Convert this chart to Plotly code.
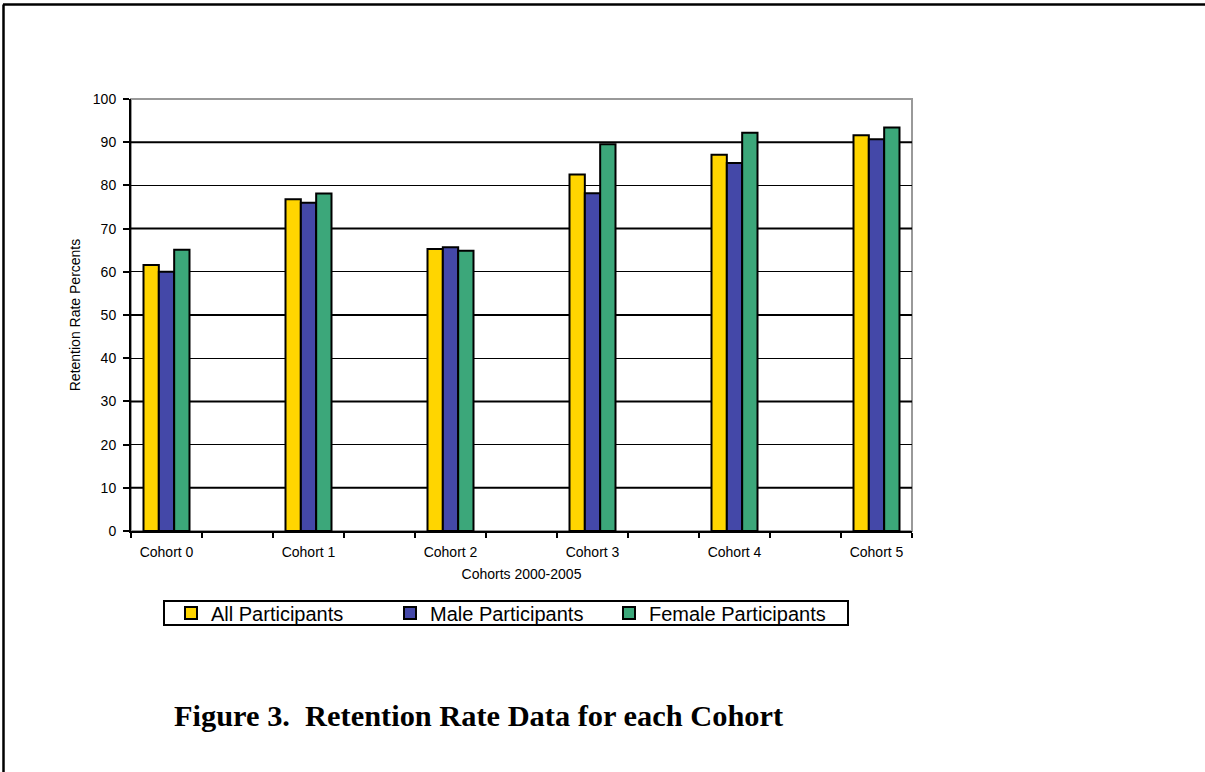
import plotly.graph_objects as go

# Retention rates (%) per cohort and participant group
cohorts = ["Cohort 0", "Cohort 1", "Cohort 2", "Cohort 3", "Cohort 4", "Cohort 5"]
all_participants = [61.6, 76.8, 65.3, 82.5, 87.1, 91.6]
male_participants = [60.0, 76.0, 65.7, 78.2, 85.2, 90.7]
female_participants = [65.1, 78.1, 64.9, 89.5, 92.2, 93.4]

series_names = ["All Participants", "Male Participants", "Female Participants"]
series_values = [all_participants, male_participants, female_participants]
series_colors = ["#FFD500", "#4448A8", "#3CA77A"]

y_ticks = [0, 10, 20, 30, 40, 50, 60, 70, 80, 90, 100]
heavy_grid = [10, 30, 50, 70, 90]

# cohorts sit on every other slot of the category axis
n_slots = len(cohorts) * 2 - 1
slots = [2 * i for i in range(len(cohorts))]
boundaries = [s - 0.5 for s in range(n_slots + 1)]

SANS = '"Liberation Sans", Arial, sans-serif'
SERIF = '"Liberation Serif", "Times New Roman", serif'

L, R, T, B = 131, 293, 99, 241
W, H = 1205, 772
pw, ph = W - L - R, H - T - B


def px_x(px):
    return (px - L) / pw


def px_y(py):
    return (H - B - py) / ph


fig = go.Figure()
for name, vals, col in zip(series_names, series_values, series_colors):
    fig.add_trace(go.Bar(
        x=slots, y=vals, name=name,
        marker=dict(color=col, line=dict(color="black", width=2)),
    ))

shapes = [
    # grey frame on top/right of the plot area
    dict(type="rect", xref="paper", yref="paper", x0=0, x1=1, y0=0, y1=1,
         line=dict(color="#999999", width=2), layer="below"),
    # legend frame
    dict(type="rect", xref="paper", yref="paper",
         x0=px_x(164), x1=px_x(848), y0=px_y(601), y1=px_y(625),
         line=dict(color="black", width=2)),
]
for g in heavy_grid:
    shapes.append(dict(type="line", xref="paper", yref="y", x0=0, x1=1, y0=g, y1=g,
                       line=dict(color="black", width=2), layer="below"))
# page border (top and left)
shapes.append(dict(type="line", xref="paper", yref="paper",
                   x0=px_x(3), x1=px_x(W), y0=px_y(4.5), y1=px_y(4.5),
                   line=dict(color="black", width=2.5)))
shapes.append(dict(type="line", xref="paper", yref="paper",
                   x0=px_x(3.5), x1=px_x(3.5), y0=px_y(4.5), y1=px_y(H),
                   line=dict(color="black", width=2.5)))

fig.update_layout(
    width=W, height=H,
    margin=dict(l=L, r=R, t=T, b=B, pad=0),
    paper_bgcolor="white", plot_bgcolor="white",
    barmode="group", bargap=0.676, bargroupgap=0,
    font=dict(family=SANS, size=14, color="black"),
    showlegend=True,
    legend=dict(
        orientation="h", x=px_x(171), y=px_y(613), xanchor="left", yanchor="middle",
        borderwidth=0, bgcolor="rgba(0,0,0,0)",
        font=dict(size=20, family=SANS),
        traceorder="normal", itemwidth=30,
        entrywidth=174, entrywidthmode="pixels",
    ),
    xaxis=dict(
        range=[-0.5, n_slots - 0.5],
        tickmode="array", tickvals=slots, ticktext=cohorts, ticks="",
        showline=True, linecolor="black", linewidth=2,
        showgrid=False, zeroline=False, ticklabelstandoff=7,
        minor=dict(tickmode="array", tickvals=boundaries,
                   ticks="outside", ticklen=5, tickwidth=2, tickcolor="black", showgrid=False),
        title=dict(text="Cohorts 2000-2005", standoff=10, font=dict(size=14)),
        tickfont=dict(size=14),
    ),
    yaxis=dict(
        range=[0, 100], tickmode="array", tickvals=y_ticks,
        ticks="outside", ticklen=6, tickwidth=2, tickcolor="black",
        showline=True, linecolor="black", linewidth=2, ticklabelstandoff=4,
        showgrid=True, gridcolor="black", gridwidth=1, zeroline=False,
        title=dict(text="Retention Rate Percents", standoff=9, font=dict(size=14)),
        tickfont=dict(size=14),
    ),
    shapes=shapes,
    annotations=[dict(
        text="<b>Figure 3.  Retention Rate Data for each Cohort</b>",
        xref="paper", yref="paper", x=px_x(172), y=px_y(716),
        xanchor="left", yanchor="middle", showarrow=False,
        font=dict(family=SERIF, size=30.4, color="black"),
    )],
)

fig.write_html("out.html")
